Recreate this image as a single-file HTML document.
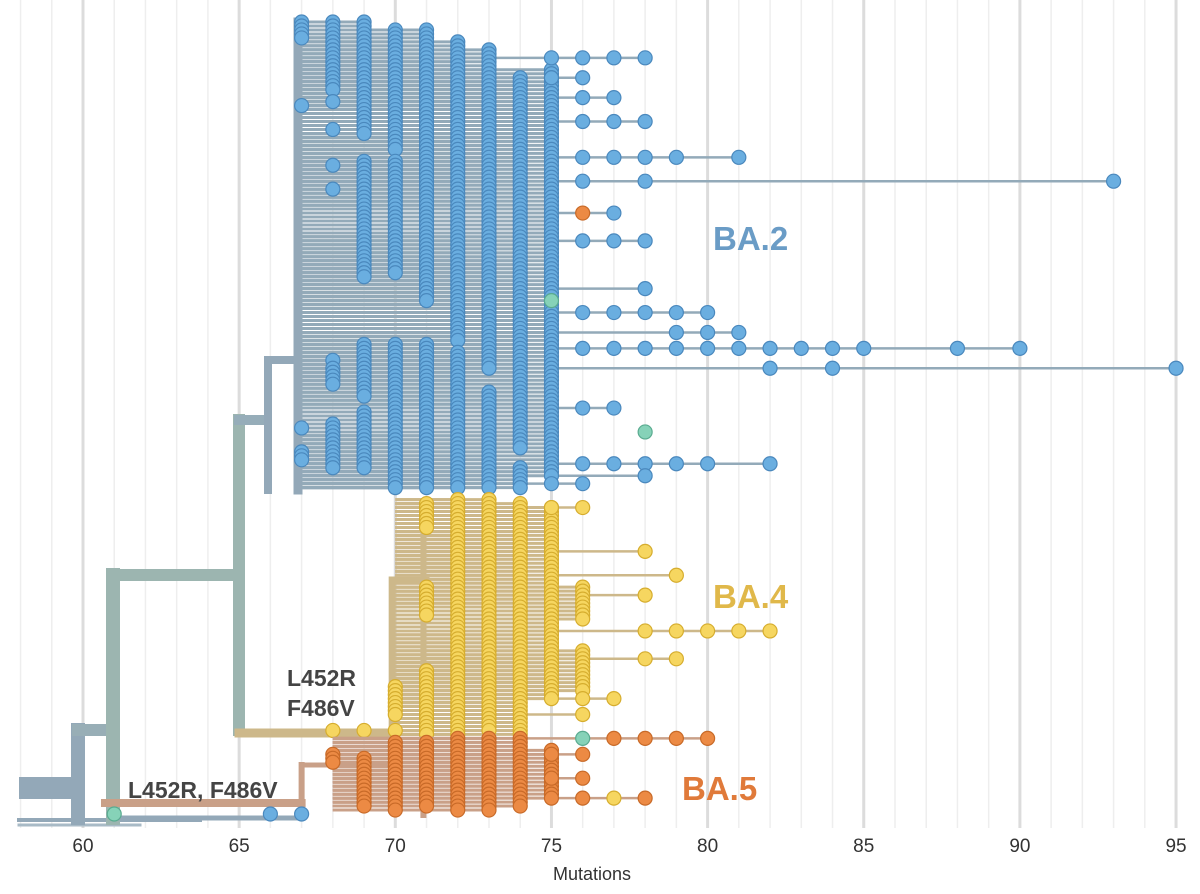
<!DOCTYPE html>
<html><head><meta charset="utf-8"><style>
body{margin:0;background:#fff;font-family:"Liberation Sans",sans-serif}
svg{display:block}
</style></head><body>
<svg id="c" width="1200" height="894" viewBox="0 0 1200 894"></svg>
<script>
// ---- data ----
const xTicks=[60,65,70,75,80,85,90,95];
// dot stacks: [mutation, rowStart, rowEnd]
const blueCols=[[67,0,4],[67,21,21],[67,102,102],[67,108,110],[68,0,17],[68,20,20],[68,27,27],[68,36,36],[68,42,42],[68,85,85],[68,87,91],[68,101,112],[69,0,28],[69,35,64],[69,81,94],[69,98,112],[70,2,32],[70,35,63],[70,81,117],[71,2,70],[71,81,117],[72,5,80],[72,83,117],[73,7,87],[73,93,117],[74,14,107],[74,112,117],[75,12,114]];
const blueTips=[[9,[75,76,77,78]],[14,[75,76]],[19,[76,77]],[25,[76,77,78]],[34,[76,77,78,79,81]],[40,[76,78,93]],[48,[77]],[55,[76,77,78]],[67,[78]],[73,[76,77,78,79,80]],[78,[79,80,81]],[82,[76,77,78,79,80,81,82,83,84,85,88,90]],[87,[82,84,95]],[97,[76,77]],[111,[76,77,78,79,80,82]],[114,[78]],[116,[75,76]]];
const yellowCols=[[70,167,174],[70,178,178],[71,121,127],[71,142,149],[71,163,179],[72,120,179],[73,120,178],[74,121,179],[75,122,170],[76,142,150],[76,158,168],[68,178,178],[69,178,178]];
const yellowTips=[[122,[75,76]],[133,[78]],[139,[79]],[144,[78]],[153,[78,79,80,81,82]],[160,[78,79]],[170,[76,77]],[174,[76]]];
const orangeCols=[[68,184,186],[69,185,197],[70,181,198],[71,181,197],[72,180,198],[73,180,198],[74,180,197],[75,183,195]];
const orangeTips=[[180,[77,78,79,80]],[184,[75,76]],[190,[75,76]],[195,[76,78]]];
const specialTips=[[76,48,'orange'],[75,70,'green'],[78,103,'green'],[76,180,'green'],[77,195,'yellow'],[61,199,'green'],[66,199,'blue'],[67,199,'blue']];
// ---- scales ----
const X=m=>83+(m-60)*31.23;
const Y=u=>22+u*3.98;
const S='http://www.w3.org/2000/svg';
const svg=document.getElementById('c');
function el(t,a,p){const e=document.createElementNS(S,t);for(const k in a)e.setAttribute(k,a[k]);(p||svg).appendChild(e);return e;}
const C={blue:['#6aaee0','#4a88bd','#93aab9'],yellow:['#f6d660','#d6ad2e','#cdb88a'],orange:['#ec8a44','#c86a28','#c9a088'],green:['#86d2b8','#5aab90','#9cb5ae']};
// gridlines
const g=el('g',{});
for(let m=58;m<=96;m++){const x=X(m);el('line',{x1:x,x2:x,y1:0,y2:828,stroke:m%5==0?'#dcdcdc':'#eeeeee','stroke-width':m%5==0?3:1.5},g);}
// ticks
xTicks.forEach(t=>{const e=el('text',{x:X(t),y:852,'text-anchor':'middle','font-size':19,fill:'#333'});e.textContent=t;});
const xt=el('text',{x:592,y:880,'text-anchor':'middle','font-size':18,fill:'#333'});xt.textContent='Mutations';
// backbone
const bb=el('g',{fill:'none','stroke-linecap':'square'});
function seg(x1,y1,x2,y2,w,c){el('line',{x1,y1,x2,y2,stroke:c,'stroke-width':w},bb);}
seg(30,788,72,788,22,'#93a8b8');
seg(19,820,200,820,4,'#93a8b8');seg(19,825,140,825,3,'#a8bac6');
seg(78,730,78,818,14,'#93a8b8');seg(78,730,110,730,12,'#98aeb6');
seg(113,575,113,818,14,'#9cb5b0');seg(113,575,236,575,12,'#9cb5b0');
seg(239,420,239,730,12,'#9cb5b0');seg(239,420,266,420,10,'#96adb9');
seg(268,360,268,490,8,'#93a8b8');seg(268,360,296,360,8,'#93a8b8');
seg(298,22,298,490,9,'#93a8b8');
seg(113,818,X(67),818,5,'#93a8b8');
seg(105,803,X(67),803,8,'#c9a088');seg(X(67),765,X(67),803,6,'#c9a088');seg(X(67),765,X(70),765,5,'#c9a088');
seg(239,733,X(70),733,9,'#cdb88a');seg(X(69.9),580,X(69.9),733,7,'#cdb88a');seg(X(70.9),505,X(70.9),740,6,'#cdb88a');seg(X(69.9),580,X(71),580,6,'#cdb88a');
seg(X(70.9),742,X(70.9),815,6,'#c9a088');
// clade lines + dots
function clade(cols,tips,stem,col,name){
 const lg=el('g',{});
 const dg=el('g',{});
 const c=C[col];
 cols.forEach(([m,a,b])=>{for(let u=a;u<=b;u++){el('line',{x1:X(stem),x2:X(m),y1:Y(u),y2:Y(u),stroke:c[2],'stroke-width':3},lg);}});
 tips.forEach(([u,ms])=>{el('line',{x1:X(stem),x2:X(Math.max(...ms)),y1:Y(u),y2:Y(u),stroke:c[2],'stroke-width':2.5},lg);});
 cols.forEach(([m,a,b])=>{for(let u=a;u<=b;u++){const d=el('circle',{cx:X(m),cy:Y(u),r:7,fill:c[0],stroke:c[1],'stroke-width':1.2},dg);}});
 tips.forEach(([u,ms])=>ms.forEach(m=>{const d=el('circle',{cx:X(m),cy:Y(u),r:7,fill:c[0],stroke:c[1],'stroke-width':1.2},dg);}));
}
clade(blueCols,blueTips,67,'blue','ba2');
clade(yellowCols,yellowTips,70,'yellow','ba4');
clade(orangeCols,orangeTips,68,'orange','ba5');
specialTips.forEach(([m,u,col])=>{const c=C[col];const d=el('circle',{cx:X(m),cy:Y(u),r:7,fill:c[0],stroke:c[1],'stroke-width':1.2});});
// labels
function lab(t,x,y,s,f,n){const e=el('text',{x,y,'font-size':s,'font-weight':'bold',fill:f});e.textContent=t;}
lab('BA.2',713,250,33,'#6a9cc6','ba2-label');
lab('BA.4',713,608,33,'#e0b84a','ba4-label');
lab('BA.5',682,800,33,'#e07a3a','ba5-label');
lab('L452R',287,686,23,'#444','ba4-mutation-label-1');
lab('F486V',287,716,23,'#444','ba4-mutation-label-2');
lab('L452R, F486V',128,798,23,'#444','ba5-mutation-label');
</script>
</body></html>
